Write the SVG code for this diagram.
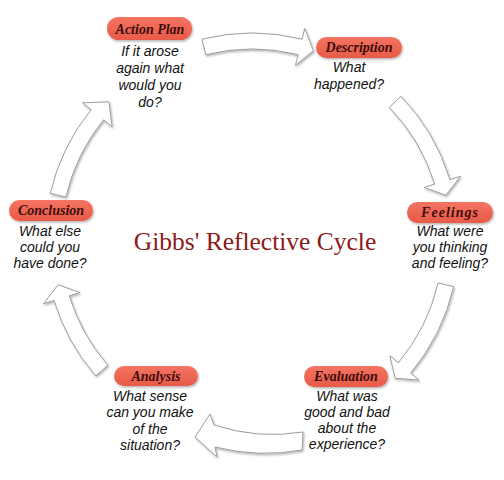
<svg xmlns="http://www.w3.org/2000/svg" width="504" height="480" viewBox="0 0 504 480">
<defs>
<filter id="sh" x="-20%" y="-20%" width="140%" height="140%">
<feDropShadow dx="1" dy="1.5" stdDeviation="1.2" flood-color="#000" flood-opacity="0.3"/>
</filter>
<linearGradient id="pg" x1="0" y1="0" x2="0" y2="1">
<stop offset="0" stop-color="#f47462"/>
<stop offset="1" stop-color="#e85a47"/>
</linearGradient>
<style>
.arr{fill:#fff;stroke:#9c9c9c;stroke-width:1;stroke-linejoin:miter;filter:url(#sh)}
.pill{fill:url(#pg);filter:url(#sh)}
.hd{font-family:"Liberation Serif",serif;font-weight:bold;font-style:italic;font-size:14px;fill:#3d0c0c;text-anchor:middle}
.bd{font-family:"Liberation Sans",sans-serif;font-style:italic;font-size:14px;fill:#111;text-anchor:middle}
.tt{font-family:"Liberation Serif",serif;font-size:25.5px;fill:#8b1a1a;text-anchor:middle}
</style>
</defs>
<rect width="504" height="480" fill="#fff"/>
<g id="connectors">
<path class="arr" d="M201.9,39.2 A207,207 0 0 1 302.1,39.2 L304.7,28.5 L313.5,50.7 L295.5,65.3 L298.2,54.7 A191,191 0 0 0 205.8,54.7 Z"/>
<path class="arr" d="M400.9,96.2 A207,207 0 0 1 449.9,179.5 L460.5,176.3 L445.9,195.2 L424.1,187.4 L434.7,184.2 A191,191 0 0 0 389.4,107.3 Z"/>
<path class="arr" d="M453.7,286.6 A207,207 0 0 1 410.6,373.1 L419.0,380.1 L395.1,378.2 L389.9,355.7 L398.3,362.8 A191,191 0 0 0 438.1,283.0 Z"/>
<path class="arr" d="M302,450 A205,205 0 0 1 215,447 L217,457 L195,437 L210,414 L214,425 A187,187 0 0 0 303,432 Z"/>
<path class="arr" d="M95.8,375.8 A207,207 0 0 1 54.1,300.5 L43.5,303.7 L58.1,284.8 L79.9,292.6 L69.3,295.8 A191,191 0 0 0 107.9,365.3 Z"/>
<path class="arr" d="M50.3,193.4 A207,207 0 0 1 91.1,109.7 L82.6,102.8 L108.9,101.8 L112.1,126.7 L103.6,119.8 A191,191 0 0 0 65.9,197.0 Z"/>
</g>
<g id="title"><text class="tt" x="255" y="250">Gibbs' Reflective Cycle</text></g>
<g id="action-plan">
<rect class="pill" x="107" y="17" width="85" height="23" rx="11.5"/>
<text class="hd" x="150" y="34">Action Plan</text>
<text class="bd" x="150" y="56">If it arose</text>
<text class="bd" x="150" y="73">again what</text>
<text class="bd" x="150" y="90">would you</text>
<text class="bd" x="150" y="107">do?</text>
</g>
<g id="description">
<rect class="pill" x="316" y="37" width="86" height="21" rx="10.5"/>
<text class="hd" x="359" y="52">Description</text>
<text class="bd" x="349" y="72">What</text>
<text class="bd" x="349" y="89">happened?</text>
</g>
<g id="feelings">
<rect class="pill" x="407" y="202" width="86" height="21" rx="10.5"/>
<text class="hd" x="450" y="217" letter-spacing="1">Feelings</text>
<text class="bd" x="450" y="236">What were</text>
<text class="bd" x="450" y="252">you thinking</text>
<text class="bd" x="450" y="268">and feeling?</text>
</g>
<g id="evaluation">
<rect class="pill" x="304" y="366" width="84" height="21" rx="10.5"/>
<text class="hd" x="346" y="381">Evaluation</text>
<text class="bd" x="347" y="401">What was</text>
<text class="bd" x="347" y="417">good and bad</text>
<text class="bd" x="347" y="433">about the</text>
<text class="bd" x="347" y="449">experience?</text>
</g>
<g id="analysis">
<rect class="pill" x="114" y="366" width="84" height="20" rx="10"/>
<text class="hd" x="156" y="381">Analysis</text>
<text class="bd" x="150" y="401">What sense</text>
<text class="bd" x="150" y="417">can you make</text>
<text class="bd" x="150" y="434">of the</text>
<text class="bd" x="150" y="450">situation?</text>
</g>
<g id="conclusion">
<rect class="pill" x="9" y="200" width="84" height="21" rx="10.5"/>
<text class="hd" x="51" y="215">Conclusion</text>
<text class="bd" x="50" y="236">What else</text>
<text class="bd" x="50" y="252">could you</text>
<text class="bd" x="50" y="268">have done?</text>
</g>
</svg>
